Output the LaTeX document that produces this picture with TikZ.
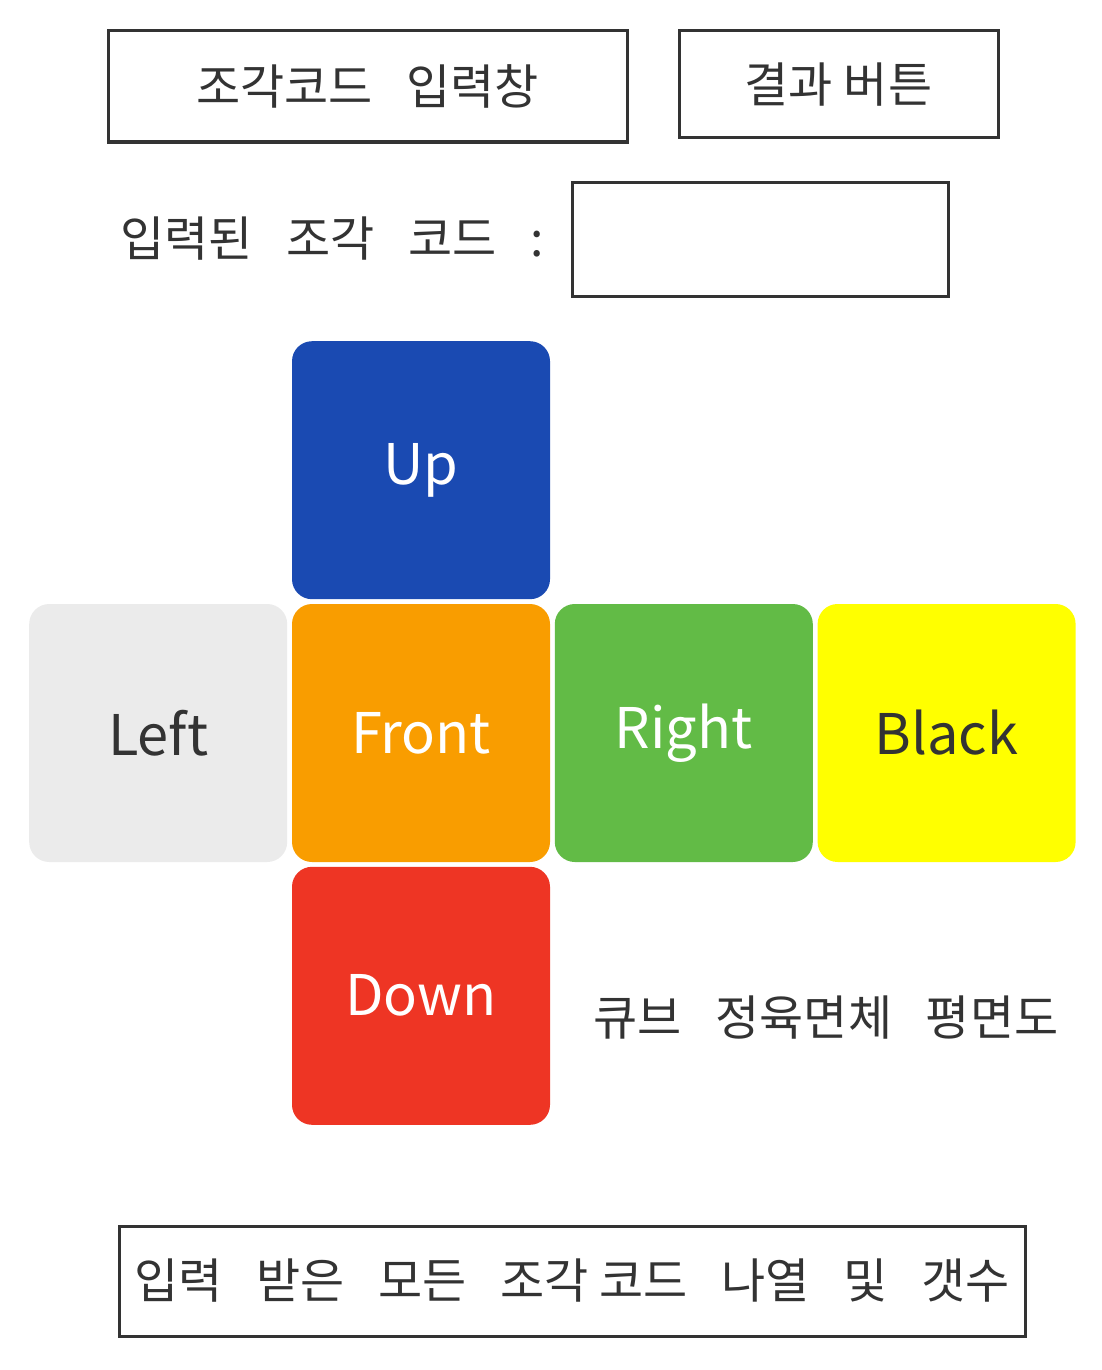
\documentclass[tikz,border=0pt]{standalone}
\usepackage{fontspec}
\setmainfont{Noto Sans CJK KR}
\usepackage{tikz}
\usetikzlibrary{positioning}
\definecolor{penGray}{RGB}{51,51,51}
\definecolor{faceUp}{RGB}{26,74,178}
\definecolor{faceLeft}{RGB}{235,235,235}
\definecolor{faceFront}{RGB}{249,157,0}
\definecolor{faceRight}{RGB}{98,187,70}
\definecolor{faceBack}{RGB}{255,255,0}
\definecolor{faceDown}{RGB}{238,53,36}
\newcommand{\facesize}{129pt}
\newcommand{\wgap}{\hspace{.7em}}
\tikzset{uibox/.style={draw=penGray, line width=1.5pt, inner sep=0pt, font=\fontsize{24}{28}\selectfont, text=penGray}}
\tikzset{face/.style={rounded corners=10pt, minimum size=\facesize, inner sep=0pt, font=\fontsize{28}{32}\selectfont}}
\tikzset{note/.style={font=\fontsize{24}{28}\selectfont, text=penGray}}

\begin{document}
\begin{tikzpicture}[x=0.5pt, y=-0.5pt, node distance=2pt]
  \useasboundingbox (0,0) rectangle (1102,1370);

  % --- input row ---
  \node[uibox, minimum width=259.5pt, minimum height=55.5pt] (inputbox) at (367.5,86.5) {조각코드\wgap 입력창};
  \node[uibox, minimum width=159.5pt, minimum height=53.5pt] (resultbtn) at (838.5,84.5) {결과 버튼};

  % --- entered code ---
  \node[uibox, minimum width=188pt, minimum height=57pt] (codebox) at (760,239) {};
  \node[note, left=10pt of codebox] (codelabel) {입력된\wgap 조각\wgap 코드\wgap :};

  % --- cube net ---
  \node[face, fill=faceFront, text=white] (front) at (421,733) {Front};
  \node[face, fill=faceUp, text=white, above=of front] (up) {Up};
  \node[face, fill=faceLeft, text=penGray, left=of front] (left) {Left};
  \node[face, fill=faceRight, text=white, right=of front] (right) {Right};
  \node[face, fill=faceBack, text=penGray, right=of right] (back) {Black};
  \node[face, fill=faceDown, text=white, below=of front] (down) {Down};

  \node[note] (netnote) at (826,1018) {큐브\wgap 정육면체\wgap 평면도};

  % --- list of all codes ---
  \node[uibox, minimum width=453pt, minimum height=55pt] (listbox) at (572,1281)
    {입력\wgap 받은\wgap 모든\wgap 조각 코드\wgap 나열\wgap 및\wgap 갯수};
\end{tikzpicture}
\end{document}
